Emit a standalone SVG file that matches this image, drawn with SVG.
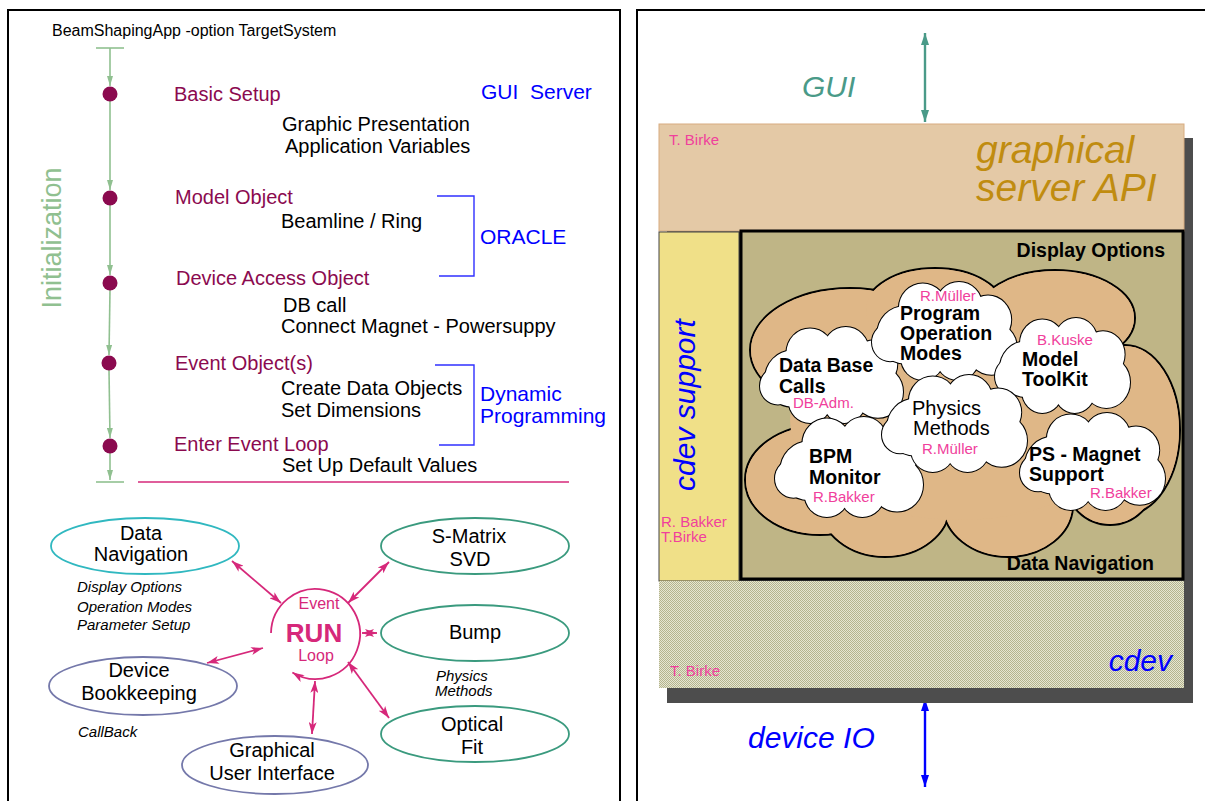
<svg xmlns="http://www.w3.org/2000/svg" xmlns:xlink="http://www.w3.org/1999/xlink" width="1205" height="801" viewBox="0 0 1205 801">
<style>
text{font-family:"Liberation Sans",Arial,Helvetica,sans-serif}
.ttl{font-size:16px;fill:#000}
.mar{font-size:20px;fill:#8b0a4f}
.blk{font-size:20px;fill:#000}
.blu{font-size:21px;fill:#0000ff}
.ita{font-size:15px;font-style:italic;fill:#000}
.nd{font-size:20px;fill:#000;text-anchor:middle}
.pk{font-size:15px;fill:#f0409c}
.cb{font-size:19.5px;font-weight:bold;fill:#000}
.cn{font-size:20px;fill:#000}
.frame{fill:none;stroke:#000;stroke-width:2}
.gl{stroke:#90c090;stroke-width:1.6;fill:none}
.pl{stroke:#d6287a;stroke-width:1.8;fill:none}
.br{stroke:#3030ff;stroke-width:1.4;fill:none}
.dot{fill:#8b0a4f}
.cs circle,.cs ellipse{fill:#fff;stroke:#000;stroke-width:2;vector-effect:non-scaling-stroke}
.cf circle,.cf ellipse{fill:#fff;stroke:none}
</style>
<defs>
<marker id="ag" viewBox="0 0 10 6" refX="10" refY="3" markerWidth="10" markerHeight="6" markerUnits="userSpaceOnUse" orient="auto"><path d="M0,0 L10,3 L0,6 Z" fill="#90c090"/></marker>
<marker id="ap" viewBox="0 0 12 8" refX="12" refY="4" markerWidth="12" markerHeight="8" markerUnits="userSpaceOnUse" orient="auto-start-reverse"><path d="M0,0 L12,4 L0,8 L3,4 Z" fill="#d6287a"/></marker>
<marker id="at" viewBox="0 0 12 8" refX="12" refY="4" markerWidth="12" markerHeight="8" markerUnits="userSpaceOnUse" orient="auto-start-reverse"><path d="M0,0 L12,4 L0,8 Z" fill="#4a9a88"/></marker>
<marker id="ab" viewBox="0 0 12 8" refX="12" refY="4" markerWidth="12" markerHeight="8" markerUnits="userSpaceOnUse" orient="auto-start-reverse"><path d="M0,0 L12,4 L0,8 Z" fill="#0000ff"/></marker>
<pattern id="hatch" width="2" height="2" patternUnits="userSpaceOnUse"><rect width="2" height="2" fill="#e6e6d2"/><rect width="1" height="1" fill="#b4b48e"/><rect x="1" y="1" width="1" height="1" fill="#b4b48e"/></pattern>
<g id="cloudS" class="cs"><ellipse cx="100" cy="65" rx="70" ry="35"/><circle cx="45" cy="70" r="38"/><circle cx="70" cy="35" r="33"/><circle cx="120" cy="32" r="32"/><circle cx="160" cy="50" r="32"/><circle cx="165" cy="88" r="35"/><circle cx="118" cy="100" r="30"/><circle cx="70" cy="100" r="30"/><circle cx="25" cy="80" r="25"/></g>
<g id="cloudF" class="cf"><ellipse cx="100" cy="65" rx="70" ry="35"/><circle cx="45" cy="70" r="38"/><circle cx="70" cy="35" r="33"/><circle cx="120" cy="32" r="32"/><circle cx="160" cy="50" r="32"/><circle cx="165" cy="88" r="35"/><circle cx="118" cy="100" r="30"/><circle cx="70" cy="100" r="30"/><circle cx="25" cy="80" r="25"/></g>
</defs>
<rect width="1205" height="801" fill="#fff"/>

<!-- LEFT PANEL -->
<rect class="frame" x="8" y="10" width="612" height="800"/>
<text class="ttl" x="52" y="36">BeamShapingApp -option TargetSystem</text>
<text x="0" y="0" transform="translate(61,238) rotate(-90)" text-anchor="middle" style="font-size:27px;fill:#90c090">Initialization</text>

<g id="connectors">
  <line class="gl" x1="96" y1="48" x2="124" y2="48"/>
  <line class="gl" x1="96" y1="482" x2="124" y2="482"/>
  <line class="gl" x1="110" y1="48" x2="110" y2="86" marker-end="url(#ag)"/>
  <line class="gl" x1="110" y1="101" x2="110" y2="190" marker-end="url(#ag)"/>
  <line class="gl" x1="110" y1="205" x2="110" y2="275" marker-end="url(#ag)"/>
  <line class="gl" x1="110" y1="290" x2="109" y2="355" marker-end="url(#ag)"/>
  <line class="gl" x1="109" y1="370" x2="110" y2="438" marker-end="url(#ag)"/>
  <line class="gl" x1="110" y1="453" x2="110" y2="480" marker-end="url(#ag)"/>
  <path class="br" d="M437,196 H474 V276 H439"/>
  <path class="br" d="M435,365 H474 V445 H439"/>
  <line x1="138" y1="482" x2="569" y2="482" stroke="#d6287a" stroke-width="1.6"/>
  <line class="pl" x1="232" y1="561" x2="281" y2="603" marker-start="url(#ap)" marker-end="url(#ap)"/>
  <line class="pl" x1="389" y1="562" x2="348" y2="603" marker-start="url(#ap)" marker-end="url(#ap)"/>
  <line class="pl" x1="362" y1="633" x2="377" y2="633" marker-start="url(#ap)" marker-end="url(#ap)"/>
  <line class="pl" x1="207" y1="663" x2="263" y2="648" marker-start="url(#ap)" marker-end="url(#ap)"/>
  <line class="pl" x1="315" y1="681" x2="312" y2="734" marker-start="url(#ap)" marker-end="url(#ap)"/>
  <line class="pl" x1="348" y1="662" x2="389" y2="718" marker-start="url(#ap)" marker-end="url(#ap)"/>
  <line x1="925" y1="33" x2="925" y2="122" stroke="#4a9a88" stroke-width="2.4" marker-start="url(#at)" marker-end="url(#at)"/>
  <line x1="925" y1="699" x2="925" y2="787" stroke="#0000ff" stroke-width="2.4" marker-start="url(#ab)" marker-end="url(#ab)"/>
</g>

<g id="step-basic-setup"><circle class="dot" cx="110" cy="94" r="7.5"/><text class="mar" x="174" y="101">Basic Setup</text><text class="blk" x="282" y="131">Graphic Presentation</text><text class="blk" x="285" y="153">Application Variables</text></g>
<g id="step-model-object"><circle class="dot" cx="110" cy="198" r="7.5"/><text class="mar" x="175" y="204">Model Object</text><text class="blk" x="281" y="228">Beamline / Ring</text></g>
<g id="step-device-access"><circle class="dot" cx="110" cy="283" r="7.5"/><text class="mar" x="176" y="285">Device Access Object</text><text class="blk" x="283" y="312">DB call</text><text class="blk" x="281" y="333">Connect Magnet - Powersuppy</text></g>
<g id="step-event-objects"><circle class="dot" cx="109" cy="363" r="7.5"/><text class="mar" x="175" y="370">Event Object(s)</text><text class="blk" x="281" y="395">Create Data Objects</text><text class="blk" x="281" y="417">Set Dimensions</text></g>
<g id="step-event-loop"><circle class="dot" cx="110" cy="446" r="7.5"/><text class="mar" x="174" y="451">Enter Event Loop</text><text class="blk" x="282" y="472">Set Up Default Values</text></g>
<g id="label-gui-server"><text class="blu" x="481" y="99" xml:space="preserve" style="white-space:pre">GUI  Server</text></g>
<g id="label-oracle"><text class="blu" x="480" y="244">ORACLE</text></g>
<g id="label-dynamic"><text class="blu" x="480" y="401">Dynamic</text><text class="blu" x="480" y="423">Programming</text></g>

<g id="node-run-loop">
  <path class="pl" d="M271,633 A44.5,45 0 1 1 292.4,672.4" marker-end="url(#ap)"/>
  <text x="319" y="609" text-anchor="middle" style="font-size:16px;fill:#d6287a">Event</text>
  <text x="314" y="642" text-anchor="middle" style="font-size:26px;font-weight:bold;fill:#d6287a">RUN</text>
  <text x="316" y="661" text-anchor="middle" style="font-size:16px;fill:#d6287a">Loop</text>
</g>
<g id="node-data-navigation"><ellipse cx="145" cy="546" rx="94" ry="28" fill="none" stroke="#30b8c0" stroke-width="1.8"/><text class="nd" x="141" y="540">Data</text><text class="nd" x="141" y="561">Navigation</text></g>
<g id="note-data-navigation"><text class="ita" x="77" y="592">Display Options</text><text class="ita" x="77" y="612">Operation Modes</text><text class="ita" x="77" y="630">Parameter Setup</text></g>
<g id="node-device-bookkeeping"><ellipse cx="143" cy="686" rx="94" ry="29" fill="none" stroke="#7478aa" stroke-width="1.8"/><text class="nd" x="139" y="677">Device</text><text class="nd" x="139" y="700">Bookkeeping</text></g>
<g id="note-callback"><text class="ita" x="78" y="737">CallBack</text></g>
<g id="node-gui"><ellipse cx="275" cy="765" rx="93" ry="29" fill="none" stroke="#7478aa" stroke-width="1.8"/><text class="nd" x="272" y="757">Graphical</text><text class="nd" x="272" y="780">User Interface</text></g>
<g id="node-smatrix"><ellipse cx="475" cy="546" rx="94" ry="28" fill="none" stroke="#3a9a7e" stroke-width="1.8"/><text class="nd" x="469" y="543">S-Matrix</text><text class="nd" x="470" y="566">SVD</text></g>
<g id="node-bump"><ellipse cx="475" cy="633" rx="94" ry="28" fill="none" stroke="#3a9a7e" stroke-width="1.8"/><text class="nd" x="475" y="639">Bump</text></g>
<g id="note-physics"><text class="ita" x="436" y="681">Physics</text><text class="ita" x="435" y="696">Methods</text></g>
<g id="node-optical-fit"><ellipse cx="475" cy="734" rx="94" ry="28" fill="none" stroke="#3a9a7e" stroke-width="1.8"/><text class="nd" x="472" y="731">Optical</text><text class="nd" x="472" y="754">Fit</text></g>

<!-- RIGHT PANEL -->
<rect class="frame" x="637" y="10" width="600" height="800"/>
<g id="label-gui"><text x="802" y="97" style="font-size:30px;font-style:italic;fill:#4a9a88">GUI</text></g>
<rect x="667" y="138" width="526" height="565" fill="#4d4d4d"/>
<g id="block-graphical-server-api">
  <rect x="659" y="124" width="525" height="107" fill="#e4c9a6" stroke="#d8ac80" stroke-width="1"/>
  <text class="pk" x="669" y="145">T. Birke</text>
  <text x="976" y="163" style="font-size:39px;font-style:italic;fill:#c08c10">graphical</text>
  <text x="976" y="201" style="font-size:39px;font-style:italic;fill:#c08c10">server API</text>
</g>
<g id="block-cdev-support">
  <rect x="659" y="232" width="80" height="349" fill="#f0e088" stroke="#444" stroke-width="1"/>
  <text x="0" y="0" transform="translate(695,405) rotate(-90)" text-anchor="middle" style="font-size:30px;font-style:italic;fill:#0000ff">cdev support</text>
  <text class="pk" x="661" y="527">R. Bakker</text>
  <text class="pk" x="661" y="542">T.Birke</text>
</g>
<g id="block-cdev">
  <rect x="659" y="581" width="525" height="107" fill="url(#hatch)"/>
  <text x="1172" y="671" text-anchor="end" style="font-size:30px;font-style:italic;fill:#0000ff">cdev</text>
  <text class="pk" x="670" y="676">T. Birke</text>
</g>
<g id="block-application">
  <rect x="741" y="231" width="442" height="348" fill="#bfb586" stroke="#000" stroke-width="3"/>
  <text x="1165" y="257" text-anchor="end" style="font-size:19.5px;font-weight:bold;fill:#000">Display Options</text>
  <text x="1154" y="570" text-anchor="end" style="font-size:19.5px;font-weight:bold;fill:#000">Data Navigation</text>
</g>
<g id="cloud-background">
  <g fill="#dfb787" stroke="#000" stroke-width="2">
    <ellipse cx="850" cy="350" rx="100" ry="62"/>
    <ellipse cx="935" cy="310" rx="70" ry="42"/>
    <ellipse cx="1055" cy="318" rx="80" ry="48"/>
    <ellipse cx="1125" cy="430" rx="55" ry="85"/>
    <ellipse cx="820" cy="480" rx="75" ry="55"/>
    <ellipse cx="885" cy="505" rx="65" ry="52"/>
    <ellipse cx="1008" cy="505" rx="65" ry="52"/>
    <ellipse cx="1110" cy="480" rx="45" ry="45"/>
  </g>
  <g fill="#dfb787">
    <ellipse cx="850" cy="350" rx="99" ry="61"/>
    <ellipse cx="935" cy="310" rx="69" ry="41"/>
    <ellipse cx="1055" cy="318" rx="79" ry="47"/>
    <ellipse cx="1125" cy="430" rx="54" ry="84"/>
    <ellipse cx="820" cy="480" rx="74" ry="54"/>
    <ellipse cx="885" cy="505" rx="64" ry="51"/>
    <ellipse cx="1008" cy="505" rx="64" ry="51"/>
    <ellipse cx="1110" cy="480" rx="44" ry="44"/>
    <ellipse cx="960" cy="420" rx="170" ry="100"/>
  </g>
</g>
<g id="cloud-data-base">
  <use xlink:href="#cloudS" transform="translate(760,327) scale(0.715,0.738)"/><use xlink:href="#cloudF" transform="translate(760,327) scale(0.715,0.738)"/>
  <text class="cb" x="779" y="372">Data Base</text><text class="cb" x="779" y="393">Calls</text><text class="pk" x="793" y="408">DB-Adm.</text>
</g>
<g id="cloud-bpm">
  <use xlink:href="#cloudS" transform="translate(775,417) scale(0.74,0.769)"/><use xlink:href="#cloudF" transform="translate(775,417) scale(0.74,0.769)"/>
  <text class="cb" x="809" y="463">BPM</text><text class="cb" x="809" y="484">Monitor</text><text class="pk" x="813" y="502">R.Bakker</text>
</g>
<g id="cloud-program">
  <use xlink:href="#cloudS" transform="translate(872,282) scale(0.725,0.754)"/><use xlink:href="#cloudF" transform="translate(872,282) scale(0.725,0.754)"/>
  <text class="pk" x="920" y="301">R.Müller</text>
  <text class="cb" x="900" y="320">Program</text><text class="cb" x="900" y="340">Operation</text><text class="cb" x="900" y="360">Modes</text>
</g>
<g id="cloud-model">
  <use xlink:href="#cloudS" transform="translate(995,318) scale(0.675,0.731)"/><use xlink:href="#cloudF" transform="translate(995,318) scale(0.675,0.731)"/>
  <text class="pk" x="1037" y="345">B.Kuske</text>
  <text class="cb" x="1022" y="366">Model</text><text class="cb" x="1022" y="386">ToolKit</text>
</g>
<g id="cloud-ps-magnet">
  <use xlink:href="#cloudS" transform="translate(1020,413) scale(0.725,0.746)"/><use xlink:href="#cloudF" transform="translate(1020,413) scale(0.725,0.746)"/>
  <text class="cb" x="1029" y="461">PS - Magnet</text><text class="cb" x="1029" y="481">Support</text><text class="pk" x="1090" y="498">R.Bakker</text>
</g>
<g id="cloud-physics">
  <use xlink:href="#cloudS" transform="translate(882,375) scale(0.725,0.746)"/><use xlink:href="#cloudF" transform="translate(882,375) scale(0.725,0.746)"/>
  <text class="cn" x="912" y="415">Physics</text><text class="cn" x="913" y="435">Methods</text><text class="pk" x="922" y="454">R.Müller</text>
</g>
<g id="label-device-io"><text x="748" y="748" style="font-size:30px;font-style:italic;fill:#0000ff">device IO</text></g>
</svg>
